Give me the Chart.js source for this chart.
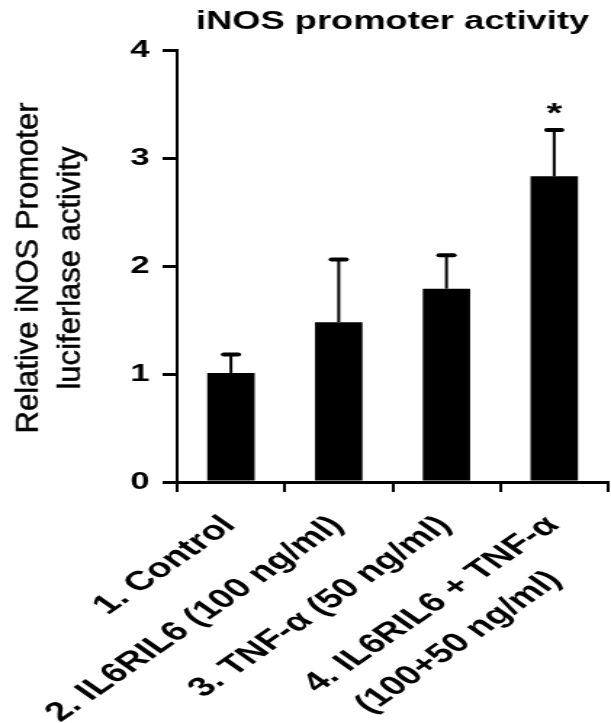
<!DOCTYPE html>
<html>
<head>
<meta charset="utf-8">
<script src="https://cdn.jsdelivr.net/npm/chart.js@4"></script>
<style>
  html, body { margin: 0; padding: 0; background: #ffffff; overflow: hidden; }
  #wrap { position: relative; width: 611px; height: 723px; overflow: hidden; }
  #c { display: block; transform: scaleX(1.4513); transform-origin: 0 0; }
</style>
</head>
<body>
<div id="wrap"><canvas id="c" width="421" height="723"></canvas></div>
<script>
// ---- data ----
const categories = [
  "1. Control",
  "2. IL6RIL6 (100 ng/ml)",
  "3. TNF-\u03B1 (50 ng/ml)",
  ["4. IL6RIL6 + TNF-\u03B1", "(100+50 ng/ml)"]
];
const meanValues = [1.01, 1.48, 1.79, 2.83];
const errorValues = [0.17, 0.58, 0.31, 0.43];
const significance = ["", "", "", "*"];
const yTicks = [0, 1, 2, 3, 4];
const titleText = "iNOS promoter activity";
const yTitleLines = ["Relative iNOS Promoter", "luciferlase activity"];

const FONT = '"Liberation Sans", Arial, Helvetica, sans-serif';
const X_FONT = 'bold 27px ' + FONT;

// shift the shorter lines of a multi-line category label back toward the middle
// (Chart.js right-aligns rotated lines; the reference roughly centres them)
const measureCtx = document.createElement('canvas').getContext('2d');
function centeredLines(label) {
  if (!Array.isArray(label)) return label;
  measureCtx.font = X_FONT;
  const widths = label.map(l => measureCtx.measureText(l).width);
  const maxW = Math.max(...widths);
  const spaceW = measureCtx.measureText(' ').width;
  return label.map((l, i) => l + ' '.repeat(Math.round((maxW - widths[i]) * 0.78 / spaceW)));
}

// error bars + significance marks
const errorBarPlugin = {
  id: 'errorBars',
  afterDatasetsDraw(chart) {
    const ctx = chart.ctx;
    const yScale = chart.scales.y;
    const meta = chart.getDatasetMeta(0);
    ctx.save();
    ctx.strokeStyle = '#000';
    ctx.fillStyle = '#000';
    meta.data.forEach((bar, i) => {
      const top = yScale.getPixelForValue(meanValues[i] + errorValues[i]);
      ctx.lineCap = 'butt';
      ctx.lineWidth = 2;
      ctx.beginPath();
      ctx.moveTo(bar.x, bar.y);
      ctx.lineTo(bar.x, top);
      ctx.stroke();
      ctx.lineCap = 'round';
      ctx.lineWidth = 4;
      ctx.beginPath();
      ctx.moveTo(bar.x - 5, top);
      ctx.lineTo(bar.x + 5, top);
      ctx.stroke();
      if (significance[i]) {
        ctx.font = 'bold 28px ' + FONT;
        ctx.textAlign = 'center';
        ctx.textBaseline = 'alphabetic';
        ctx.fillText(significance[i], bar.x, top - 8);
      }
    });
    ctx.restore();
  }
};

// y axis title (kept unstretched along its own direction)
const yTitlePlugin = {
  id: 'yTitle',
  afterDraw(chart) {
    const ctx = chart.ctx;
    const area = chart.chartArea;
    ctx.save();
    ctx.translate(34.5, (area.top + area.bottom) / 2 + 2);
    ctx.rotate(-Math.PI / 2);
    ctx.scale(1.45, 1);
    ctx.font = 'normal 21.4px ' + FONT;
    ctx.fillStyle = '#000';
    ctx.strokeStyle = '#000';
    ctx.lineWidth = 0.35;
    ctx.textAlign = 'center';
    ctx.textBaseline = 'middle';
    yTitleLines.forEach((line, i) => {
      const dy = (i - (yTitleLines.length - 1) / 2) * 29;
      ctx.fillText(line, 0, dy);
      ctx.strokeText(line, 0, dy);
    });
    ctx.restore();
  }
};

new Chart(document.getElementById('c'), {
  type: 'bar',
  data: {
    labels: categories,
    datasets: [{
      data: meanValues,
      backgroundColor: '#000000',
      borderWidth: 0,
      barPercentage: 0.44,
      categoryPercentage: 1.0
    }]
  },
  options: {
    responsive: false,
    animation: false,
    devicePixelRatio: 1,
    layout: { padding: { left: 0, right: 2, top: 0, bottom: 0 } },
    plugins: {
      legend: { display: false },
      tooltip: { enabled: false },
      title: {
        display: true,
        text: titleText,
        fullSize: false,
        color: '#000',
        font: { family: FONT, size: 25, weight: 'bold', lineHeight: 1 },
        padding: { top: 10, bottom: 15 }
      }
    },
    scales: {
      x: {
        offset: true,
        grid: {
          offset: true,
          drawOnChartArea: false,
          drawTicks: true,
          tickLength: 10,
          lineWidth: 2,
          color: '#000'
        },
        border: { display: true, color: '#000', width: 3 },
        ticks: {
          minRotation: 45,
          maxRotation: 45,
          autoSkip: false,
          padding: 15,
          labelOffset: -1,
          color: '#000',
          font: { family: FONT, size: 27, weight: 'bold', lineHeight: 1.48 },
          callback(value, index) { return centeredLines(categories[index]); }
        },
        afterFit(scale) {
          scale.height = 241;
          scale.paddingLeft = 0;
          scale.paddingRight = 0;
        }
      },
      y: {
        min: 0,
        max: 4,
        afterBuildTicks(scale) { scale.ticks = yTicks.map(v => ({ value: v })); },
        grid: {
          drawOnChartArea: false,
          drawTicks: true,
          tickLength: 10,
          lineWidth: 3,
          color: '#000'
        },
        border: { display: true, color: '#000', width: 2 },
        ticks: {
          padding: 9,
          color: '#000',
          font: { family: FONT, size: 24, weight: 'bold' }
        },
        afterFit(scale) { scale.width = 122; }
      }
    }
  },
  plugins: [errorBarPlugin, yTitlePlugin]
});
</script>
</body>
</html>
